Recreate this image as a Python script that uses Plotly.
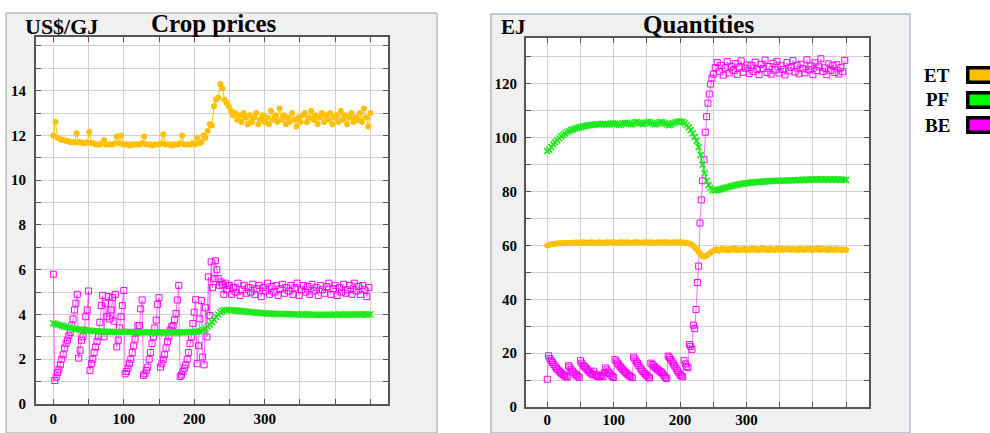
import plotly.graph_objects as go

# ---------------- data ----------------
SERIES = ["ET", "PF", "BE"]
COLORS = {"ET": "#ffc000", "PF": "#1ee81e", "BE": "#ff00ff"}
LEGEND_FILL = {"ET": "#ffc000", "PF": "#00ff00", "BE": "#ff00ff"}

X_TICK_VALS = [0, 50, 100, 150, 200, 250, 300, 350, 400, 450]
X_TICK_TEXT = ["0", "", "100", "", "200", "", "300", "", "", ""]
Y_TICK_VALS_L = list(range(0, 17))
Y_TICK_TEXT_L = ["0", "", "2", "", "4", "", "6", "", "8", "", "10", "", "12", "", "14", "", ""]
Y_TICK_VALS_R = list(range(0, 131, 10))
Y_TICK_TEXT_R = ["0", "", "20", "", "40", "", "60", "", "80", "", "100", "", "120", ""]

# Crop prices (US$/GJ) -- ET & PF sampled every 3 periods, BE every 2 then 3
ET_L_PRE = [12.0, 12.6, 11.9, 11.85, 11.8, 11.8, 11.75, 11.75, 11.7, 11.7,
            11.7, 12.1, 11.7, 11.7, 11.65, 11.65, 11.7, 12.15, 11.65, 11.65,
            11.6, 11.6, 11.6, 11.65, 11.8, 11.6, 11.6, 11.6, 11.6, 11.65,
            11.95, 11.65, 12.0, 11.6, 11.6, 11.6, 11.55, 11.6, 11.6, 11.6,
            11.6, 11.6, 11.65, 11.95, 11.6, 11.6, 11.6, 11.55, 11.6, 11.6,
            11.6, 11.65, 12.05, 11.6, 11.6, 11.6, 11.55, 11.6, 11.6, 11.6,
            11.65, 12.0, 11.6, 11.6, 11.6, 11.6, 11.65, 11.6, 11.9, 11.65,
            11.7, 12.0, 11.9, 12.2, 12.5, 12.45, 13.3, 13.6, 13.7, 14.3,
            14.1, 13.6, 13.45, 13.3]
ET_L_POST = [13.1, 12.9, 13.0, 12.7, 12.9, 12.6, 13.0, 12.8, 12.5, 12.9,
             12.6, 12.8, 13.0, 12.5, 12.7, 12.9, 12.6, 12.8, 12.5, 13.1,
             12.7, 12.9, 12.6, 13.2, 12.7, 12.9, 12.5, 12.8, 12.6, 13.0,
             12.7, 12.4, 12.8, 12.6, 12.9, 13.0, 12.6, 12.8, 13.1, 12.7,
             12.9, 12.5, 12.8, 13.0, 12.6, 12.9, 12.7, 13.0, 12.5, 12.8,
             12.9, 12.6, 13.1, 12.7, 12.9, 12.5, 12.8, 13.0, 12.6, 12.8,
             12.7, 13.0, 12.6, 13.2, 12.8, 12.4, 13.0]
PF_L_PRE = [3.6, 3.58, 3.55, 3.52, 3.5, 3.47, 3.44, 3.42, 3.4, 3.38,
            3.36, 3.35, 3.33, 3.32, 3.3, 3.29, 3.28, 3.28, 3.27, 3.26,
            3.25, 3.25, 3.24, 3.24, 3.23, 3.23, 3.22, 3.22, 3.22, 3.21,
            3.21, 3.21, 3.22, 3.22, 3.22, 3.23, 3.22, 3.22, 3.21, 3.21,
            3.2, 3.2, 3.21, 3.21, 3.2, 3.2, 3.2, 3.2, 3.19, 3.19,
            3.2, 3.2, 3.2, 3.19, 3.19, 3.2, 3.2, 3.19, 3.2, 3.2,
            3.2, 3.2, 3.2, 3.2, 3.21, 3.21, 3.21, 3.22, 3.22, 3.24,
            3.26, 3.3, 3.36, 3.45, 3.55, 3.66, 3.78, 3.9, 4.0, 4.1,
            4.16, 4.19, 4.2, 4.2]
PF_L_POST = [4.19, 4.19, 4.18, 4.17, 4.16, 4.15, 4.14, 4.13, 4.12, 4.11,
             4.1, 4.09, 4.08, 4.07, 4.07, 4.06, 4.05, 4.05, 4.04, 4.04,
             4.03, 4.03, 4.03, 4.02, 4.02, 4.02, 4.01, 4.02, 4.01, 4.01,
             4.0, 4.01, 4.0, 4.0, 4.0, 4.01, 4.0, 3.99, 4.0, 3.99,
             3.99, 3.98, 3.99, 3.98, 3.99, 3.99, 4.0, 3.99, 3.99, 4.0,
             3.99, 4.0, 4.0, 3.99, 4.0, 4.0, 3.99, 4.0, 4.0, 4.01,
             4.0, 4.0, 4.0, 4.01, 4.0, 4.0, 4.01]
BE_L_PRE = [5.8, 1.05, 1.2, 1.4, 1.55, 1.75, 2.0, 2.2, 2.5, 2.7,
            2.85, 3.05, 3.2, 3.5, 3.8, 4.2, 4.5, 4.9, 2.05, 2.4,
            2.85, 3.0, 3.3, 3.9, 4.2, 5.05, 1.5, 1.8, 2.0, 2.3,
            2.55, 2.8, 3.0, 3.65, 4.4, 4.85, 3.0, 4.5, 3.9, 4.8,
            3.8, 4.2, 4.75, 3.7, 4.9, 2.55, 2.85, 3.4, 3.9, 4.4,
            5.07, 1.35, 1.45, 1.6, 1.8, 2.0, 2.3, 2.6, 2.9, 3.2,
            3.5, 3.5, 4.25, 4.65, 1.28, 1.35, 1.5, 1.65, 2.0, 2.3,
            2.7, 3.0, 3.4, 3.75, 4.45, 4.75, 1.65, 1.8, 2.0, 2.2,
            2.5, 2.8, 3.0, 3.3, 3.45, 3.5, 3.75, 4.05, 4.65, 5.3,
            1.23, 1.3, 1.45, 1.6, 1.75, 2.0, 2.3, 2.7, 3.0, 3.6,
            4.1, 4.66, 1.8, 2.6, 3.8, 4.62, 2.1, 1.75, 4.3, 3.0,
            5.68, 3.95, 6.35, 5.2, 5.6, 6.4, 6.0, 5.6, 5.3, 5.45,
            5.35, 4.9, 5.4, 5.1, 5.3]
BE_L_POST = [5.3, 4.9, 5.2, 5.0, 5.4, 4.85, 5.1, 5.3, 4.95, 5.2,
             5.0, 5.35, 4.9, 5.15, 5.3, 4.8, 5.2, 5.05, 5.4, 4.9,
             5.25, 5.0, 5.3, 4.85, 5.15, 5.35, 4.95, 5.2, 5.05, 5.3,
             4.9, 5.2, 5.4, 4.85, 5.1, 5.3, 5.0, 5.25, 4.9, 5.35,
             5.05, 5.2, 4.85, 5.3, 5.1, 4.95, 5.25, 5.4, 4.9, 5.15,
             5.3, 4.85, 5.2, 5.0, 5.35, 4.95, 5.1, 5.3, 4.9, 5.4,
             5.05, 5.25, 4.9, 5.3, 5.1, 4.8, 5.2]

# Quantities (EJ)
ET_R_PRE = [60.0, 60.2, 60.4, 60.5, 60.6, 60.7, 60.8, 60.8, 60.9, 60.9,
            61.0, 60.9, 61.0, 61.1, 61.0, 61.1, 61.0, 61.1, 61.2, 61.1,
            61.0, 61.1, 61.2, 61.1, 61.0, 61.1, 61.2, 61.1, 61.0, 61.1,
            61.2, 61.1, 61.1, 61.2, 61.1, 61.0, 61.1, 61.2, 61.1, 61.1,
            61.2, 61.1, 61.0, 61.1, 61.2, 61.2, 61.1, 61.0, 61.1, 61.2,
            61.1, 61.1, 61.2, 61.1, 61.0, 61.1, 61.2, 61.1, 61.1, 61.2,
            61.2, 61.1, 61.0, 61.1, 61.2, 61.1, 61.1, 61.2, 61.1, 61.0,
            60.9, 60.8, 60.5, 60.0, 59.3, 58.5, 57.6, 56.7, 56.0, 55.8,
            56.2, 56.8, 57.3, 57.8]
ET_R_POST = [58.2, 58.6, 58.0, 58.4, 58.8, 58.3, 58.5, 58.1, 58.7, 58.4,
             58.9, 58.2, 58.6, 58.3, 58.5, 58.8, 58.1, 58.6, 58.4, 58.9,
             58.3, 58.7, 58.2, 58.5, 59.0, 58.4, 58.6, 58.2, 58.8, 58.5,
             58.3, 58.7, 58.4, 58.9, 58.2, 58.6, 58.5, 58.8, 58.3, 58.7,
             58.4, 58.6, 58.2, 58.9, 58.5, 58.3, 58.7, 58.4, 58.8, 58.2,
             58.6, 58.5, 58.9, 58.3, 58.7, 58.4, 58.6, 58.2, 58.8, 58.5,
             58.3, 58.7, 58.4, 58.6, 58.2, 58.5, 58.3]
PF_R_PRE = [95.0, 95.5, 96.5, 97.5, 98.3, 99.0, 99.8, 100.5, 101.0, 101.5,
            102.0, 102.4, 102.8, 103.1, 103.4, 103.6, 103.8, 104.0, 104.2, 104.3,
            104.5, 104.6, 104.7, 104.8, 104.9, 105.0, 104.9, 105.0, 105.1, 105.0,
            104.8, 104.9, 105.2, 105.3, 105.2, 105.0, 104.7, 104.8, 105.3, 105.5,
            105.4, 105.2, 104.9, 105.0, 105.6, 105.8, 105.6, 105.3, 105.0, 105.3,
            105.7, 105.8, 105.6, 105.2, 104.9, 105.1, 105.6, 105.8, 105.7, 105.3,
            105.0, 104.6, 104.8, 105.3, 105.6, 105.9, 106.0, 106.1, 105.8, 105.3,
            104.6, 103.8, 102.8, 101.6, 100.3, 98.8, 96.5, 93.5, 90.0, 86.8,
            84.0, 82.4, 81.3, 80.6]
PF_R_POST = [80.4, 80.5, 80.7, 80.9, 81.1, 81.3, 81.5, 81.7, 81.9, 82.1,
             82.3, 82.5, 82.6, 82.8, 82.9, 83.0, 83.1, 83.2, 83.3, 83.4,
             83.4, 83.5, 83.6, 83.6, 83.7, 83.7, 83.8, 83.8, 83.9, 83.9,
             84.0, 83.9, 84.0, 84.0, 84.1, 84.0, 84.1, 84.1, 84.2, 84.1,
             84.2, 84.2, 84.3, 84.2, 84.3, 84.3, 84.4, 84.3, 84.4, 84.5,
             84.4, 84.5, 84.4, 84.5, 84.5, 84.4, 84.5, 84.4, 84.5, 84.4,
             84.5, 84.4, 84.5, 84.4, 84.4, 84.3, 84.3]
BE_R_PRE = [10.3, 19.0, 18.0, 17.2, 16.5, 15.8, 15.0, 14.4, 13.8, 13.3,
            12.8, 12.3, 12.0, 11.6, 11.3, 11.1, 15.3, 14.8, 14.0, 13.3,
            12.7, 12.2, 11.8, 11.4, 11.0, 17.2, 16.3, 15.5, 15.0, 14.5,
            14.0, 13.4, 12.9, 12.5, 12.0, 13.3, 12.2, 11.6, 11.3, 11.2,
            11.6, 11.9, 11.3, 12.8, 14.5, 13.8, 13.0, 12.4, 11.8, 11.3,
            11.0, 17.6, 17.0, 16.3, 15.6, 15.0, 14.4, 13.8, 13.3, 12.8,
            12.3, 11.9, 11.5, 11.2, 10.9, 18.5, 17.8, 17.0, 16.2, 15.4,
            14.6, 13.8, 13.2, 12.6, 12.1, 11.6, 11.1, 10.8, 16.3, 15.8,
            15.3, 14.8, 14.4, 14.0, 13.6, 13.2, 12.8, 12.2, 11.6, 11.0,
            10.6, 18.9, 18.3, 17.6, 16.8, 16.0, 15.2, 14.4, 13.5, 12.7,
            12.0, 11.5, 11.2, 17.2, 16.0, 15.0, 14.6, 23.2, 22.5, 21.4,
            30.4, 29.1, 36.2, 46.2, 52.3, 68.3, 76.9, 84.0, 91.8, 102.0,
            107.8, 112.8, 116.2, 119.9, 122.1]
BE_R_POST = [123.6, 126.0, 127.9, 124.5, 126.8, 123.2, 125.9, 128.2, 124.0, 126.5,
             125.0, 127.5, 123.5, 126.2, 128.5, 124.3, 125.8, 127.0, 123.8, 126.9,
             124.6, 128.0, 125.3, 123.4, 127.2, 125.7, 128.8, 124.2, 126.4, 123.6,
             127.6, 125.1, 128.3, 124.0, 126.7, 125.4, 123.3, 127.9, 124.8, 126.1,
             128.6, 124.4, 126.9, 123.7, 127.3, 125.6, 124.1, 128.9, 125.2, 126.6,
             123.5, 127.8, 124.9, 126.3, 129.3, 124.6, 125.9, 123.4, 127.4, 125.0,
             126.8, 124.2, 127.1, 123.6, 126.0, 124.5, 128.7]


def periods(pre, post, step_pre, start_post, step_post):
    xs = [i * step_pre for i in range(len(pre))]
    xs += [start_post + i * step_post for i in range(len(post))]
    return xs, list(pre) + list(post)


PANELS = {
    "left": {
        "BE": periods(BE_L_PRE, BE_L_POST, 2, 250, 3),
        "PF": periods(PF_L_PRE, PF_L_POST, 3, 252, 3),
        "ET": periods(ET_L_PRE, ET_L_POST, 3, 252, 3),
    },
    "right": {
        "BE": periods(BE_R_PRE, BE_R_POST, 2, 250, 3),
        "PF": periods(PF_R_PRE, PF_R_POST, 3, 252, 3),
        "ET": periods(ET_R_PRE, ET_R_POST, 3, 252, 3),
    },
}

# ---------------- figure ----------------
W, H = 990, 433


def fx(px):
    return px / W


def fy(py):
    return 1 - py / H


SERIF = "Liberation Serif"
fig = go.Figure()

for panel, (xa, ya) in (("left", ("x", "y")), ("right", ("x2", "y2"))):
    for name in ["BE", "PF", "ET"]:
        xs, ys = PANELS[panel][name]
        if name == "BE":
            marker = dict(symbol="square-open", size=6, color=COLORS["BE"], line=dict(width=1, color=COLORS["BE"]))
            line = dict(color="rgba(255,0,255,0.55)", width=1)
        elif name == "PF":
            marker = dict(symbol="x-thin", size=6, color=COLORS["PF"], line=dict(width=1.6, color=COLORS["PF"]))
            line = dict(color=COLORS["PF"], width=1.5)
        else:
            marker = dict(symbol="circle", size=6, color=COLORS["ET"], line=dict(width=0))
            line = dict(color=COLORS["ET"], width=1)
        fig.add_trace(go.Scatter(x=xs, y=ys, mode="lines+markers", name=name,
                                 xaxis=xa, yaxis=ya, marker=marker, line=line))

axis_common = dict(showgrid=True, gridcolor="#d2d2d2", gridwidth=1, zeroline=False,
                   showline=True, linecolor="#555555", linewidth=2, mirror="allticks",
                   ticks="inside", ticklen=5, tickcolor="#555555", tickwidth=1,
                   automargin=False,
                   tickfont=dict(family=SERIF, size=15, color="black", weight="bold"))

fig.update_layout(
    width=W, height=H, autosize=False, margin=dict(l=0, r=0, t=0, b=0, pad=0),
    paper_bgcolor="white", plot_bgcolor="rgba(0,0,0,0)", showlegend=False,
    xaxis=dict(domain=[fx(36), fx(388)], range=[-24.6, 475], anchor="y",
               tickvals=X_TICK_VALS, ticktext=X_TICK_TEXT, ticklabelstandoff=0, **axis_common),
    yaxis=dict(domain=[fy(404), fy(37)], range=[0, 16.4], anchor="x",
               tickvals=Y_TICK_VALS_L, ticktext=Y_TICK_TEXT_L, ticklabelstandoff=5, **axis_common),
    xaxis2=dict(domain=[fx(526), fx(869)], range=[-32, 484.5], anchor="y2",
                tickvals=X_TICK_VALS, ticktext=X_TICK_TEXT, ticklabelstandoff=-2, **axis_common),
    yaxis2=dict(domain=[fy(407), fy(38)], range=[0, 137], anchor="x2",
                tickvals=Y_TICK_VALS_R, ticktext=Y_TICK_TEXT_R, ticklabelstandoff=4, **axis_common),
)

shapes = [
    dict(type="rect", xref="paper", yref="paper", x0=fx(6), x1=fx(437), y0=fy(13), y1=0,
         fillcolor="#f0f0f0", line=dict(color="#a0a0a0", width=1), layer="below"),
    dict(type="rect", xref="paper", yref="paper", x0=fx(491), x1=fx(910), y0=fy(14), y1=0,
         fillcolor="#f0f0f0", line=dict(color="#a9bbd0", width=1.5), layer="below"),
    dict(type="rect", xref="paper", yref="paper", x0=fx(36), x1=fx(388), y0=fy(37), y1=fy(404),
         fillcolor="white", line=dict(width=0), layer="below"),
    dict(type="rect", xref="paper", yref="paper", x0=fx(526), x1=fx(869), y0=fy(38), y1=fy(407),
         fillcolor="white", line=dict(width=0), layer="below"),
]
legend_rows = {"ET": (66, 84), "PF": (91, 109), "BE": (116, 134)}
for name in SERIES:
    t, b = legend_rows[name]
    shapes.append(dict(type="rect", xref="paper", yref="paper", x0=fx(966), x1=1,
                       y0=fy(t), y1=fy(b), fillcolor="black", line=dict(width=0)))
    shapes.append(dict(type="rect", xref="paper", yref="paper", x0=fx(969.5), x1=1,
                       y0=fy(t + 3.5), y1=fy(b - 3.5), fillcolor=LEGEND_FILL[name], line=dict(width=0)))
fig.update_layout(shapes=shapes)

annotations = [
    dict(text="US$/GJ", x=fx(61.5), y=fy(26), size=22),
    dict(text="Crop prices", x=fx(213.5), y=fy(24), size=25),
    dict(text="EJ", x=fx(513.5), y=fy(27), size=21),
    dict(text="Quantities", x=fx(698.5), y=fy(25), size=25),
]
for name, yc in zip(SERIES, (75.5, 100, 125.5)):
    annotations.append(dict(text=name, x=fx(937), y=fy(yc), size=19))

fig.update_layout(annotations=[
    dict(text=a["text"], x=a["x"], y=a["y"], xref="paper", yref="paper", xanchor="center",
         yanchor="middle", showarrow=False,
         font=dict(family=SERIF, size=a["size"], color="black", weight="bold"))
    for a in annotations
])

fig.write_html("out.html")
